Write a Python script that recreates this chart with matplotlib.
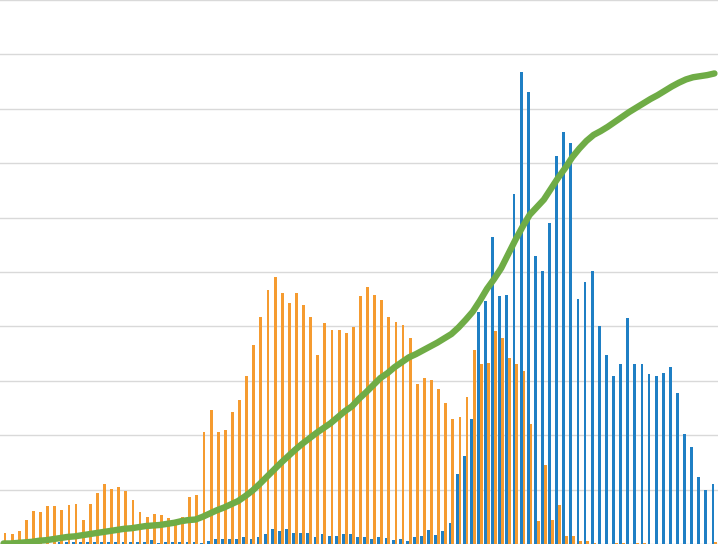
import matplotlib
matplotlib.use("Agg")
import matplotlib.pyplot as plt
import numpy as np

# Category labels (one per period)
categories = [str(i) for i in range(1, 102)]

# Series (units = gridline steps)
blue_values = [
    0, 0, 0, 0, 0, 0, 0, 0, 0.03, 0.03,
    0.03, 0.03, 0.03, 0.03, 0.03, 0.03, 0.03, 0.03, 0.03, 0.03,
    0.03, 0.07, 0.02, 0.03, 0.03, 0.04, 0.04, 0.04, 0.02, 0.06,
    0.09, 0.09, 0.10, 0.10, 0.12, 0.09, 0.13, 0.18, 0.28, 0.23,
    0.27, 0.20, 0.21, 0.21, 0.13, 0.18, 0.15, 0.15, 0.18, 0.18,
    0.13, 0.13, 0.09, 0.12, 0.11, 0.08, 0.09, 0.06, 0.13, 0.15,
    0.26, 0.17, 0.23, 0.38, 1.28, 1.62, 2.29, 4.26, 4.46, 5.65,
    4.56, 4.58, 6.43, 8.68, 8.30, 5.29, 5.02, 5.90, 7.13, 7.58,
    7.37, 4.50, 4.81, 5.02, 4.01, 3.47, 3.09, 3.30, 4.16, 3.30,
    3.30, 3.13, 3.09, 3.14, 3.25, 2.77, 2.02, 1.78, 1.23, 1.00,
    1.11,
]

orange_values = [
    0.20, 0.18, 0.23, 0.44, 0.61, 0.58, 0.69, 0.69, 0.62, 0.71,
    0.73, 0.44, 0.73, 0.93, 1.10, 1.02, 1.04, 0.97, 0.81, 0.58,
    0.49, 0.55, 0.53, 0.47, 0.40, 0.49, 0.86, 0.90, 2.05, 2.47,
    2.05, 2.09, 2.42, 2.64, 3.08, 3.65, 4.17, 4.66, 4.91, 4.61,
    4.43, 4.62, 4.39, 4.17, 3.47, 4.06, 3.93, 3.93, 3.87, 3.99,
    4.56, 4.72, 4.58, 4.48, 4.17, 4.09, 4.03, 3.79, 2.95, 3.05,
    3.01, 2.85, 2.59, 2.30, 2.34, 2.70, 3.56, 3.31, 3.33, 3.92,
    3.78, 3.41, 3.31, 3.18, 2.21, 0.42, 1.45, 0.45, 0.72, 0.15,
    0.15, 0.06, 0.06, 0.02, 0, 0, 0.02, 0.02, 0, 0.02,
    0.02, 0, 0, 0, 0, 0, 0, 0, 0, 0,
    0.03,
]

green_values = [
    0.01, 0.01, 0.02, 0.03, 0.04, 0.06, 0.07, 0.09, 0.11, 0.13,
    0.14, 0.16, 0.18, 0.20, 0.22, 0.24, 0.26, 0.28, 0.29, 0.31,
    0.33, 0.34, 0.35, 0.37, 0.39, 0.42, 0.44, 0.45, 0.50, 0.56,
    0.62, 0.67, 0.73, 0.79, 0.88, 0.98, 1.10, 1.23, 1.36, 1.49,
    1.61, 1.73, 1.84, 1.94, 2.04, 2.13, 2.22, 2.33, 2.44, 2.53,
    2.67, 2.79, 2.92, 3.05, 3.14, 3.25, 3.34, 3.43, 3.49, 3.56,
    3.63, 3.70, 3.78, 3.86, 3.98, 4.12, 4.27, 4.47, 4.69, 4.87,
    5.07, 5.33, 5.59, 5.83, 6.05, 6.19, 6.33, 6.53, 6.73, 6.91,
    7.11, 7.27, 7.41, 7.52, 7.59, 7.67, 7.76, 7.85, 7.94, 8.02,
    8.10, 8.18, 8.25, 8.33, 8.41, 8.48, 8.54, 8.58, 8.60, 8.62,
    8.65,
]

BLUE = "#1f7fc4"
ORANGE = "#f59b30"
GREEN = "#6fac46"
GRID = "#d9d9d9"

fig = plt.figure(figsize=(7.18, 5.48), dpi=100)
ax = fig.add_axes([0, 4 / 548, 1, 544 / 548])

x = np.arange(len(categories))
w = 0.4
ax.bar(x - 0.2, blue_values, width=w, color=BLUE, zorder=2, linewidth=0)
ax.bar(x + 0.2, orange_values, width=w, color=ORANGE, zorder=2, linewidth=0)
ax.plot(x, green_values, color=GREEN, linewidth=4.6, zorder=3,
        solid_capstyle="round", solid_joinstyle="round")

ax.set_xlim(-0.5, len(categories) - 0.5)
ax.set_ylim(0, 10)
ax.set_yticks(np.arange(0, 11, 1))
ax.set_xticks([])
ax.tick_params(left=False, labelleft=False, bottom=False, labelbottom=False)
ax.grid(axis="y", color=GRID, linewidth=1.0, zorder=0)
ax.set_axisbelow(True)
for s in ax.spines.values():
    s.set_visible(False)

fig.savefig("out.png", dpi=100, facecolor="white")
